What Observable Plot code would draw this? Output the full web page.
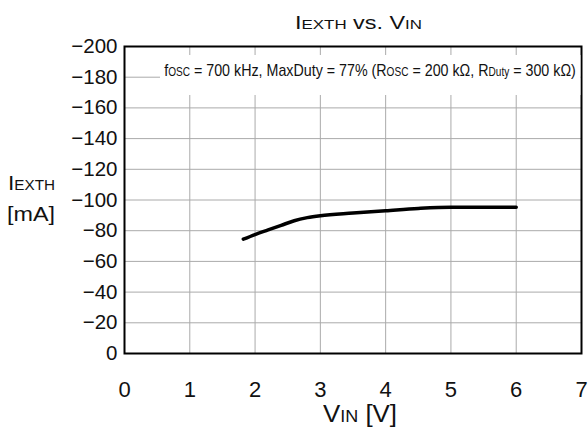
<!DOCTYPE html>
<html>
<head>
<meta charset="utf-8">
<script src="https://cdn.jsdelivr.net/npm/d3@7"></script>
<script src="https://cdn.jsdelivr.net/npm/@observablehq/plot@0.6"></script>
<style>
  body { margin: 0; background: white; }
  #wrap { position: relative; width: 588px; height: 429px; overflow: hidden; font-family: "Liberation Sans", Arial, sans-serif; color: #111; }
  .abs { position: absolute; white-space: nowrap; line-height: 1; transform-origin: 0 0; }
  #note { background: white; }
</style>
</head>
<body>
<div id="wrap">
  <div id="chart"></div>
  <div id="title" class="abs" data-w="127" style="left:295px; top:14px; font-size:18px;">I<span style="font-size:13px">EXTH</span> vs. V<span style="font-size:13px">IN</span></div>
  <div id="ylab1" class="abs" data-w="47" style="left:8px; top:172px; font-size:21px;">I<span style="font-size:14px">EXTH</span></div>
  <div id="ylab2" class="abs" data-w="48" style="left:7px; top:204px; font-size:20px;">[mA]</div>
  <div id="xlab" class="abs" data-w="74" style="left:323px; top:403px; font-size:23px;">V<span style="font-size:16px">IN</span> [V]</div>
  <div id="note" class="abs" data-w="420" style="left:160px; top:55px; padding:7px 5px 16px 5px; font-size:17px;">f<span style="font-size:12px">OSC</span> = 700 kHz, MaxDuty = 77% (R<span style="font-size:12px">OSC</span> = 200 kΩ, R<span style="font-size:12px">Duty</span> = 300 kΩ)</div>
</div>
<script>
const xTicks = [0, 1, 2, 3, 4, 5, 6, 7];
const yTicks = [0, -20, -40, -60, -80, -100, -120, -140, -160, -180, -200];
const vin = [1.82, 2.0, 2.2, 2.4, 2.6, 2.8, 3.0, 3.5, 4.0, 4.5, 5.0, 5.5, 6.0];
const iexth = [-74.5, -77.5, -80.5, -83.5, -86.5, -88.5, -89.8, -91.5, -93, -94.5, -95.3, -95.3, -95.3];
const data = vin.map((v, i) => ({ vin: v, i: iexth[i] }));

const chart = Plot.plot({
  width: 588,
  height: 429,
  marginLeft: 124,
  marginRight: 7,
  marginTop: 46,
  marginBottom: 76,
  style: { fontFamily: "'Liberation Sans', Arial, sans-serif", background: "white", color: "#111" },
  x: { domain: [0, 7] },
  y: { domain: [0, -200] },
  marks: [
    Plot.gridX(xTicks, { stroke: "#aaa", strokeOpacity: 1, strokeWidth: 1 }),
    Plot.gridY(yTicks, { stroke: "#aaa", strokeOpacity: 1, strokeWidth: 1 }),
    Plot.axisX(xTicks, { tickSize: 0, tickPadding: 28, fontSize: 22, tickFormat: "d", label: null }),
    Plot.axisY(yTicks, { tickSize: 0, tickPadding: 7, fontSize: 20.5, label: null }),
    Plot.line(data, { x: "vin", y: "i", curve: "monotone-x", stroke: "black", strokeWidth: 3.5 }),
    Plot.frame({ stroke: "black", strokeWidth: 2 })
  ]
});
document.getElementById("chart").appendChild(chart);

// the reference's lettering is horizontally stretched/condensed; fit each label to its width
document.querySelectorAll(".abs[data-w]").forEach(el => {
  const w = el.getBoundingClientRect().width;
  el.style.transform = `scaleX(${(+el.dataset.w) / w})`;
});
</script>
</body>
</html>
